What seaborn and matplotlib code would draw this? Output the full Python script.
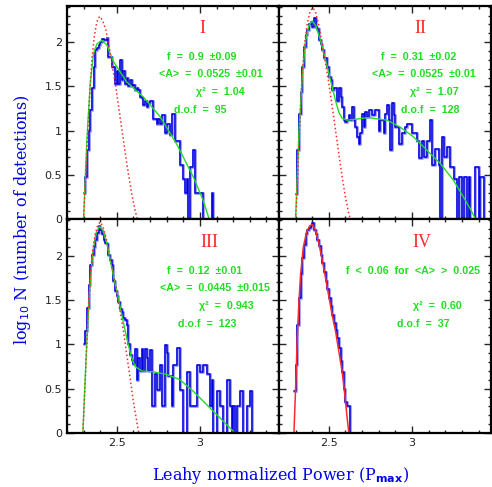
import numpy as np
import matplotlib
matplotlib.use('Agg')
import matplotlib.pyplot as plt
from matplotlib.ticker import MultipleLocator
import seaborn as sns

SET_DPI = 100
FIGSIZE = (4.92, 4.87)
BIN_WIDTH = 0.01

BLUE_DARK = '#0000dd'
BLUE_LIGHT = '#7878ff'
GREEN = '#22dd22'
RED = '#ff2a2a'

# histograms: log10 N per 0.01 bin, first bin edge given
HIST_START = [2.30, 2.30, 2.30, 2.29]
HIST_I = [0.30, 0.48, 0.78, 1.00, 1.23, 1.48, 1.72, 1.91, 1.93, 1.97,
          2.00, 2.04, 2.03, 2.02, 2.05, 1.83, 1.83, 1.72, 1.72, 1.53,
          1.68, 1.53, 1.80, 1.57, 1.68, 1.53, 1.60, 1.51, 1.57, 1.50,
          1.52, 1.46, 1.48, 1.46, 1.38, 1.37, 1.29, 1.34, 1.27, 1.31,
          1.34, 1.34, 1.13, 1.13, 1.08, 1.13, 1.08, 1.18, 1.18, 0.97,
          1.08, 1.08, 0.95, 1.19, 1.19, 0.89, 0.89, 0.89, 0.61, 0.61,
          0.46, 0.30, 0.46, 0.00, 0.59, 0.59, 0.78, 0.30, 0.30, 0.30,
          0.30, 0.30, 0.00, 0.00, 0.00, 0.00, 0.00, 0.30, 0.00]
HIST_II = [0.29, 0.78, 1.19, 1.44, 1.72, 1.95, 2.08, 2.14, 2.21, 2.23,
           2.17, 2.27, 2.17, 2.15, 2.02, 1.98, 1.91, 1.82, 1.82, 1.72,
           1.61, 1.57, 1.46, 1.48, 1.48, 1.34, 1.48, 1.38, 1.27, 1.12,
           1.10, 1.12, 1.18, 1.12, 1.27, 1.12, 1.04, 0.93, 0.85, 0.97,
           1.19, 1.04, 1.21, 1.16, 1.23, 1.23, 1.18, 1.18, 1.23, 1.23,
           1.00, 1.12, 1.12, 0.97, 1.19, 1.29, 1.12, 0.78, 1.31, 1.18,
           1.04, 1.04, 0.85, 0.85, 0.97, 0.97, 1.04, 1.08, 1.08, 1.08,
           0.97, 0.97, 0.97, 0.89, 0.69, 0.69, 0.89, 0.70, 0.70, 0.89,
           0.89, 1.12, 0.61, 0.61, 0.80, 0.80, 0.61, 0.00, 0.93, 0.70,
           0.70, 0.82, 0.82, 0.59, 0.59, 0.46, 0.46, 0.00, 0.48, 0.48,
           0.00, 0.48, 0.48, 0.00, 0.48, 0.00, 0.00, 0.00, 0.59, 0.59,
           0.00, 0.48, 0.48, 0.00]
HIST_III = [1.00, 1.15, 1.41, 1.67, 1.90, 2.01, 2.10, 2.18, 2.26, 2.33,
            2.29, 2.24, 2.18, 2.14, 2.13, 2.01, 1.95, 1.90, 1.71, 1.60,
            1.55, 1.48, 1.40, 1.37, 1.30, 1.28, 1.22, 1.00, 0.88, 0.82,
            0.78, 0.95, 0.60, 0.85, 0.70, 0.95, 0.70, 0.95, 0.85, 0.70,
            0.94, 0.30, 0.30, 0.67, 0.49, 0.49, 0.77, 0.30, 0.30, 0.99,
            0.90, 0.64, 0.64, 0.30, 0.77, 0.77, 0.96, 0.96, 0.49, 0.49,
            0.00, 0.00, 0.69, 0.69, 0.30, 0.30, 0.30, 0.30, 0.77, 0.77,
            0.69, 0.69, 0.77, 0.77, 0.67, 0.67, 0.30, 0.60, 0.00, 0.00,
            0.47, 0.47, 0.30, 0.30, 0.00, 0.00, 0.60, 0.60, 0.30, 0.00,
            0.30, 0.00, 0.30, 0.30, 0.47, 0.47, 0.00, 0.00, 0.30, 0.30,
            0.47, 0.00, 0.00, 0.00, 0.00, 0.00, 0.00, 0.00, 0.00, 0.00,
            0.00, 0.00, 0.00]
HIST_IV = [0.47, 0.77, 1.22, 1.52, 1.79, 1.97, 2.12, 2.24, 2.29, 2.31,
           2.33, 2.37, 2.29, 2.24, 2.18, 2.11, 2.01, 1.92, 1.82, 1.71,
           1.62, 1.52, 1.43, 1.33, 1.24, 1.16, 1.07, 0.96, 0.81, 0.69,
           0.50, 0.35, 0.30, 0.30, 0.00] + [0.00] * 60

# two-component model fits (green)
FIT_I_X = [2.30, 2.32, 2.34, 2.36, 2.38, 2.41, 2.44, 2.48, 2.56, 2.66,
           2.76, 2.86, 2.96, 3.02, 3.056]
FIT_I_Y = [0.00, 0.89, 1.53, 1.87, 1.98, 2.02, 1.97, 1.78, 1.55, 1.38,
           1.16, 0.85, 0.48, 0.21, 0.00]
FIT_II_X = [2.30, 2.32, 2.34, 2.36, 2.38, 2.40, 2.42, 2.45, 2.48, 2.51,
            2.54, 2.56, 2.58, 2.61, 2.66, 2.74, 2.77, 2.85, 2.93, 3.01,
            3.09, 3.17, 3.25, 3.31, 3.35, 3.38]
FIT_II_Y = [0.00, 0.97, 1.61, 2.02, 2.19, 2.24, 2.19, 2.02, 1.80, 1.57,
            1.34, 1.21, 1.14, 1.12, 1.13, 1.15, 1.14, 1.12, 1.04, 0.93,
            0.78, 0.63, 0.44, 0.25, 0.12, 0.01]
FIT_III_X = [2.296, 2.316, 2.336, 2.356, 2.376, 2.396, 2.416, 2.44, 2.47,
             2.50, 2.53, 2.56, 2.584, 2.61, 2.65, 2.72, 2.80, 2.88, 2.96,
             3.04, 3.12, 3.20]
FIT_III_Y = [0.00, 0.88, 1.60, 2.05, 2.26, 2.33, 2.29, 2.14, 1.86, 1.60,
             1.33, 1.07, 0.88, 0.75, 0.70, 0.69, 0.66, 0.60, 0.47, 0.32,
             0.17, 0.02]

# single-component model (red)
RED_I_X = [2.30, 2.31, 2.32, 2.33, 2.34, 2.35, 2.364, 2.38, 2.396, 2.414,
           2.434, 2.454, 2.474, 2.494, 2.514, 2.534, 2.56, 2.586, 2.61, 2.624]
RED_I_Y = [0.00, 0.37, 0.78, 1.16, 1.50, 1.80, 2.06, 2.23, 2.29, 2.25,
           2.14, 1.95, 1.72, 1.50, 1.23, 0.97, 0.63, 0.33, 0.10, 0.00]
RED_II_X = [2.30, 2.31, 2.32, 2.33, 2.34, 2.354, 2.37, 2.386, 2.404, 2.42,
            2.44, 2.46, 2.48, 2.50, 2.52, 2.54, 2.56, 2.58, 2.60, 2.62, 2.63]
RED_II_Y = [0.00, 0.37, 0.85, 1.27, 1.65, 1.98, 2.21, 2.34, 2.39, 2.34,
            2.19, 1.98, 1.76, 1.53, 1.27, 1.01, 0.74, 0.48, 0.25, 0.06, 0.00]
RED_III_X = [2.296, 2.31, 2.32, 2.33, 2.34, 2.354, 2.37, 2.386, 2.40, 2.416,
             2.436, 2.46, 2.48, 2.50, 2.52, 2.54, 2.56, 2.58, 2.60, 2.62, 2.632]
RED_III_Y = [0.00, 0.58, 1.03, 1.45, 1.75, 2.05, 2.24, 2.35, 2.38, 2.33,
             2.20, 1.97, 1.79, 1.60, 1.37, 1.15, 0.88, 0.62, 0.35, 0.13, 0.00]
RED_IV_X = [2.29, 2.30, 2.31, 2.32, 2.33, 2.346, 2.366, 2.386, 2.40, 2.42,
            2.44, 2.46, 2.48, 2.50, 2.52, 2.54, 2.56, 2.58, 2.596, 2.61, 2.62]
RED_IV_Y = [0.00, 0.50, 1.07, 1.48, 1.79, 2.09, 2.27, 2.34, 2.35, 2.29,
            2.14, 1.95, 1.75, 1.54, 1.33, 1.15, 0.92, 0.69, 0.43, 0.17, 0.00]

PANEL_NAMES = ['I', 'II', 'III', 'IV']
PANEL_TEXT = [
    ['f  =  0.9  ±0.09', '<A>  =  0.0525  ±0.01', 'χ²  =  1.04', 'd.o.f  =  95'],
    ['f  =  0.31  ±0.02', '<A>  =  0.0525  ±0.01', 'χ²  =  1.07', 'd.o.f  =  128'],
    ['f  =  0.12  ±0.01', '<A>  =  0.0445  ±0.015', 'χ²  =  0.943', 'd.o.f  =  123'],
    ['f  <  0.06  for  <A>  >  0.025', '', 'χ²  =  0.60', 'd.o.f  =  37'],
]
NAME_POS = [(0.64, 0.895), (0.665, 0.895), (0.67, 0.893), (0.673, 0.893)]
TEXT_X = [[0.637, 0.678, 0.722, 0.631],
          [0.660, 0.684, 0.731, 0.712],
          [0.651, 0.698, 0.750, 0.660],
          [0.632, 0.0, 0.745, 0.679]]
TEXT_Y = [0.76, 0.68, 0.596, 0.512]


def draw_panel(ax, idx, hist, fit_x, fit_y, red_x, red_y, red_style):
    xs = HIST_START[idx] + BIN_WIDTH * np.arange(len(hist))
    sns.lineplot(x=xs, y=hist, ax=ax, drawstyle='steps-post',
                 color=BLUE_LIGHT, lw=2.2, alpha=0.65, sort=False)
    sns.lineplot(x=xs, y=hist, ax=ax, drawstyle='steps-post',
                 color=BLUE_DARK, lw=1.1, sort=False)
    if fit_x is not None:
        sns.lineplot(x=fit_x, y=fit_y, ax=ax, color=GREEN, lw=1.0, sort=False)
    sns.lineplot(x=red_x, y=red_y, ax=ax, color=RED, lw=1.1,
                 linestyle=red_style, sort=False)

    ax.text(NAME_POS[idx][0], NAME_POS[idx][1], PANEL_NAMES[idx],
            transform=ax.transAxes, ha='center', va='center', color=RED,
            fontsize=13, family='Liberation Serif')
    for j, txt in enumerate(PANEL_TEXT[idx]):
        if txt:
            ax.text(TEXT_X[idx][j], TEXT_Y[j], txt, transform=ax.transAxes,
                    ha='center', va='center', color=GREEN, fontsize=7.7,
                    fontweight='bold', family=['Liberation Sans', 'DejaVu Sans'])


if __name__ == '__main__':
    sns.set_style('ticks')
    plt.rcParams['font.family'] = ['DejaVu Sans']

    fig, axes = plt.subplots(2, 2, sharex=True, sharey=True,
                             figsize=FIGSIZE, dpi=SET_DPI)
    fig.subplots_adjust(left=0.136, right=0.998, top=0.988, bottom=0.111,
                        wspace=0, hspace=0)

    draw_panel(axes[0, 0], 0, HIST_I, FIT_I_X, FIT_I_Y, RED_I_X, RED_I_Y, ':')
    draw_panel(axes[0, 1], 1, HIST_II, FIT_II_X, FIT_II_Y, RED_II_X, RED_II_Y, ':')
    draw_panel(axes[1, 0], 2, HIST_III, FIT_III_X, FIT_III_Y, RED_III_X, RED_III_Y, ':')
    draw_panel(axes[1, 1], 3, HIST_IV, None, None, RED_IV_X, RED_IV_Y, '-')

    for ax in axes.flat:
        ax.set_xlim(2.2, 3.475)
        ax.set_ylim(0, 2.41)
        ax.xaxis.set_major_locator(MultipleLocator(0.5))
        ax.xaxis.set_minor_locator(MultipleLocator(0.1))
        ax.yaxis.set_major_locator(MultipleLocator(0.5))
        ax.yaxis.set_minor_locator(MultipleLocator(0.1))
        ax.tick_params(which='both', direction='in', top=True, right=True,
                       labelsize=8, labelcolor='#222222', width=1.0)
        ax.tick_params(which='major', length=5)
        ax.tick_params(which='minor', length=2.5)
        ax.yaxis.set_major_formatter(plt.FuncFormatter(lambda v, p: f'{v:g}'))
        ax.xaxis.set_major_formatter(plt.FuncFormatter(lambda v, p: f'{v:g}'))
        for sp in ax.spines.values():
            sp.set_linewidth(1.6)
            sp.set_color('black')
        ax.set_xlabel('')
        ax.set_ylabel('')

    fig.text(0.571, 0.023, 'Leahy normalized Power (P$_{\\mathbf{max}}$)',
             ha='center', va='center', color='#0000ee', fontsize=11.5,
             family='DejaVu Serif')
    fig.text(0.045, 0.548, 'log$_{10}$ N (number of detections)',
             ha='center', va='center', rotation=90, color='#0000ee',
             fontsize=11.5, family='DejaVu Serif')

    fig.savefig('out.png', dpi=SET_DPI)
